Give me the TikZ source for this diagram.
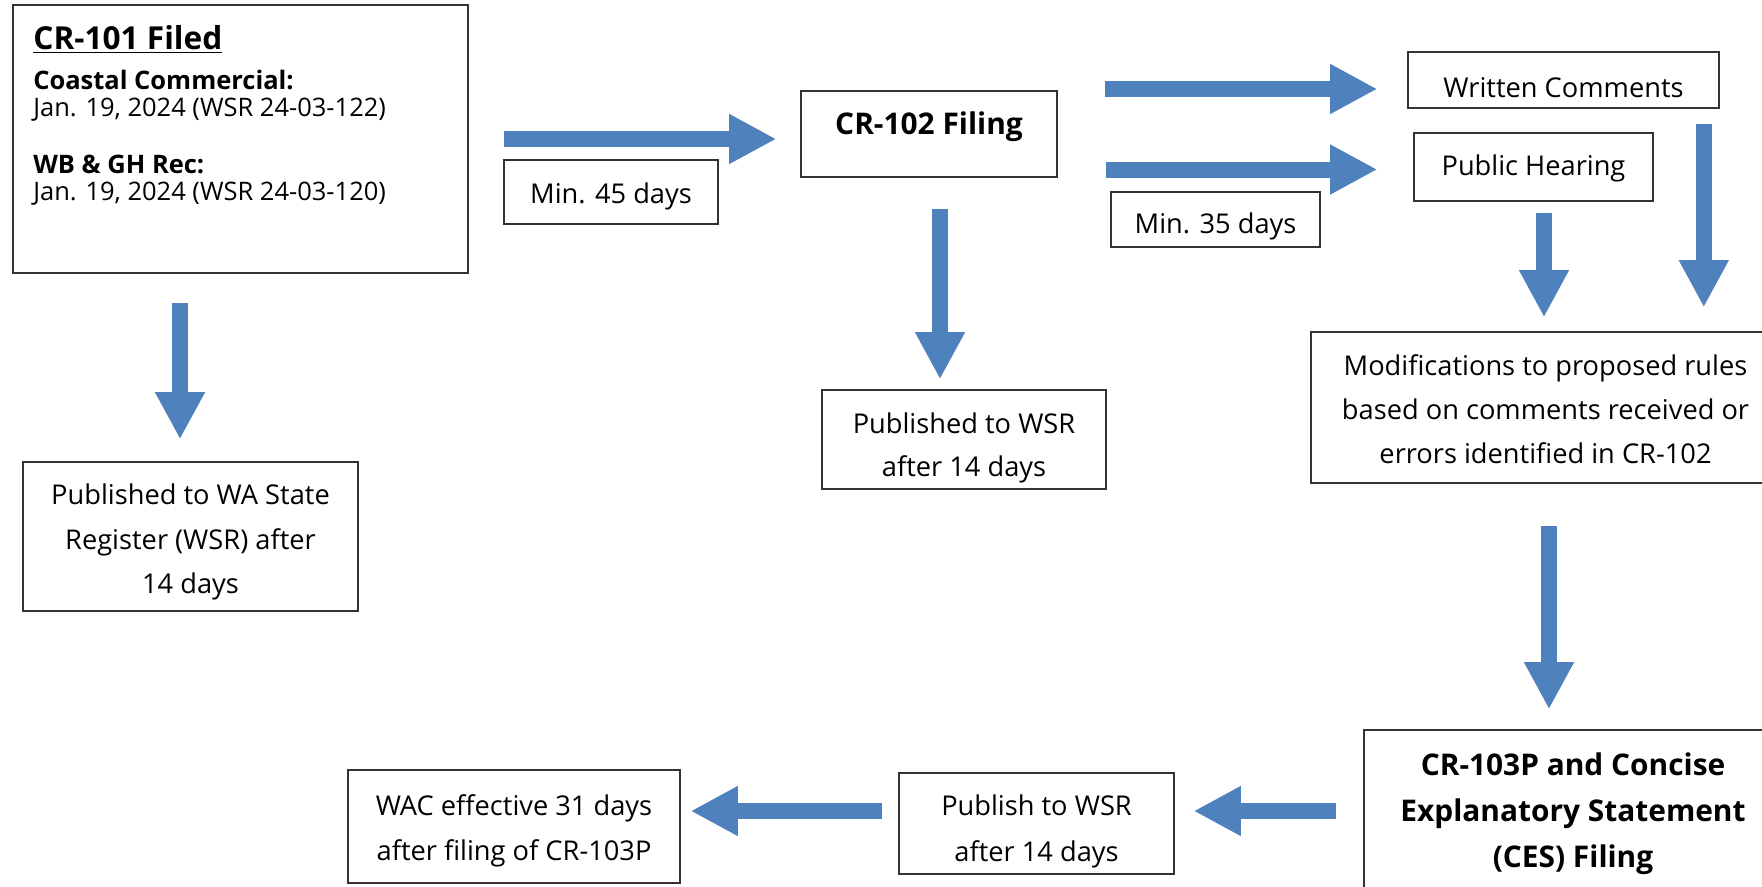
\documentclass[tikz,border=0pt]{standalone}
\usepackage{fontspec}
\setmainfont{Open Sans}
\usepackage{tikz}
\usetikzlibrary{arrows.meta, positioning}
\definecolor{arrowblue}{RGB}{79,129,189}
\newlength\ux
\setlength\ux{0.2mm}
\newcommand\lowerby[1]{\rule{0pt}{#1}}

\begin{document}
\begin{tikzpicture}[x=0.2mm, y=-0.2mm,
    box/.style={draw=black!80, line width=0.9pt, inner sep=0pt, align=center,
        font=\fontsize{15.5}{25.5}\selectfont},
    bold/.style={font=\fontsize{17}{26}\selectfont\bfseries},
    bigarrow/.style={draw=arrowblue, line width=16\ux,
        -{Triangle[width=9.4mm, length=9.4mm]}}]
    \clip (0,0) rectangle (1762,886);
    \fill[white] (0,0) rectangle (1762,886);

    % first column
    \node[box, minimum width=455\ux, minimum height=268\ux] (cr101) at (240.5,139) {};
    \node[anchor=base west, inner sep=0pt, font=\fontsize{18}{20}\selectfont\bfseries]
        (cr101head) at (33,50) {\underline{CR-101 Filed}};
    \node[anchor=north west, inner sep=0pt, align=left, font=\fontsize{14.5}{15.4}\selectfont]
        (cr101dates) at (33,69.5) {\textbf{Coastal Commercial:}\\Jan. 19, 2024 (WSR 24-03-122)\\[17pt]
        \textbf{WB \& GH Rec:}\\Jan. 19, 2024 (WSR 24-03-120)};
    \node[box, minimum width=335\ux, minimum height=149\ux] (pubwa) at (190.5,536.5)
        {\lowerby{18pt}Published to WA State\\Register (WSR) after\\14 days};

    % CR-102
    \node[box, minimum width=214\ux, minimum height=64\ux] (min45) at (611,192) {\lowerby{17pt}Min. 45 days};
    \node[box, bold, minimum width=256\ux, minimum height=86\ux, text depth=12pt] (cr102) at (929,134) {CR-102 Filing};
    \node[box, minimum width=284\ux, minimum height=99\ux, font=\fontsize{15.5}{24.5}\selectfont] (pubwsr) at (964,439.5)
        {\lowerby{21pt}Published to WSR\\after 14 days};

    % comments and hearing
    \node[box, minimum width=209\ux, minimum height=55\ux, text height=20pt] (min35) at (1215.5,219.5) {Min. 35 days};
    \node[box, minimum width=311\ux, minimum height=56\ux] (written) at (1563.5,80) {\lowerby{20pt}Written Comments};
    \node[box, minimum width=239\ux, minimum height=68\ux] (public) at (1533.5,167) {\lowerby{13pt}Public Hearing};
    \node[box, minimum width=469\ux, minimum height=151\ux, font=\fontsize{15.5}{25}\selectfont] (modif) at (1545.5,407.5)
        {\lowerby{13.5pt}Modifications to proposed rules\\based on comments received or\\errors identified in CR-102};

    % bottom row
    \node[box, bold, minimum width=418\ux, minimum height=162\ux] (ces) at (1573,811)
        {\lowerby{16pt}CR-103P and Concise\\Explanatory Statement\\(CES) Filing};
    \node[box, minimum width=275\ux, minimum height=101\ux, font=\fontsize{15.5}{26}\selectfont] (publish) at (1036.5,823.5)
        {\lowerby{21pt}Publish to WSR\\after 14 days};
    \node[box, minimum width=332\ux, minimum height=113\ux] (wac) at (514,826.5)
        {\lowerby{17pt}WAC effective 31 days\\after filing of CR-103P};

    % arrows
    \draw[bigarrow, shorten <=29\ux, shorten >=22\ux] ([xshift=-10.5\ux]pubwa.north |- cr101.south) -- ([xshift=-10.5\ux]pubwa.north);
    \draw[bigarrow, shorten <=35\ux, shorten >=24\ux] (cr101.east) -- (cr102.west |- cr101.east);
    \draw[bigarrow, shorten <=31\ux, shorten >=10\ux] ([xshift=11\ux]cr102.south) -- ([xshift=11\ux]cr102.south |- pubwsr.north);
    \draw[bigarrow, shorten <=47\ux, shorten >=30\ux] ([yshift=-9\ux]cr102.east |- written.west) -- ([yshift=-9\ux]written.west);
    \draw[bigarrow, shorten <=48\ux, shorten >=36\ux] ([yshift=-2.5\ux]cr102.east |- public.west) -- ([yshift=-2.5\ux]public.west);
    \draw[bigarrow, shorten <=11\ux, shorten >=14\ux] ([xshift=10.5\ux]public.south) -- ([xshift=10.5\ux]public.south |- modif.north);
    \draw[bigarrow, shorten <=15\ux, shorten >=24\ux] ([xshift=-16\ux]written.south -| written.east) -- ([xshift=-16\ux]modif.north -| written.east);
    \draw[bigarrow, shorten <=42\ux, shorten >=20\ux] ([xshift=3.5\ux]modif.south) -- ([xshift=3.5\ux]modif.south |- ces.north);
    \draw[bigarrow, shorten <=27\ux, shorten >=19\ux] (ces.west) -- (ces.west -| publish.east);
    \draw[bigarrow, shorten <=16\ux, shorten >=10\ux] (publish.west |- ces.west) -- (wac.east |- ces.west);
\end{tikzpicture}
\end{document}
